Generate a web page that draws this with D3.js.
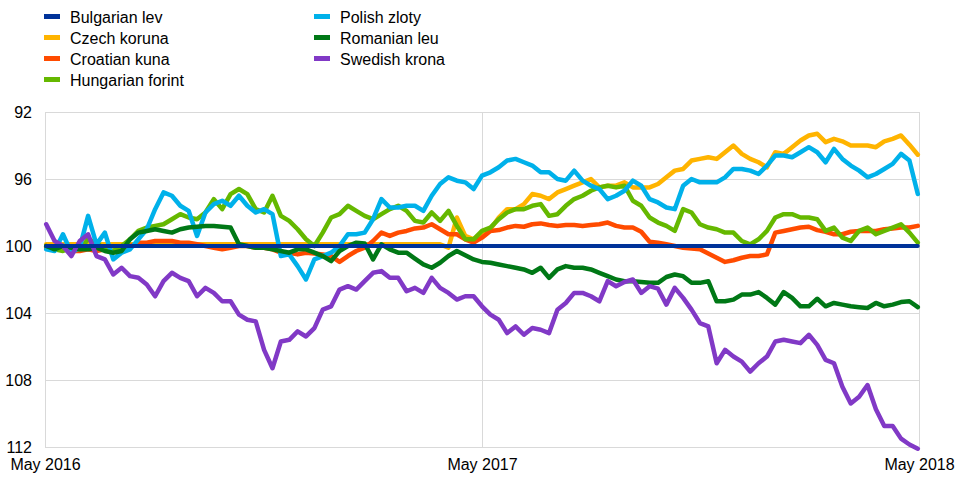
<!DOCTYPE html>
<html>
<head>
<meta charset="utf-8">
<script src="https://cdn.jsdelivr.net/npm/d3@7"></script>
<style>
  body { margin: 0; background: #fff; }
  text { font-family: "Liberation Sans", Arial, sans-serif; font-size: 16px; fill: #000; }
</style>
</head>
<body>
<div id="chart"></div>
<script>
//weekly observations, May 2016 - April 2018
let startDate = new Date(2016, 4, 2);
let dates = d3.range(105).map(i => d3.timeDay.offset(startDate, 7 * i));

let seriesNames = ["Bulgarian lev", "Czech koruna", "Croatian kuna", "Hungarian forint",
                   "Polish zloty", "Romanian leu", "Swedish krona"];
let seriesColors = ["#003299", "#ffb400", "#ff4b00", "#65b800", "#00b1ea", "#007816", "#8139c6"];

let yTicks = [92, 96, 100, 104, 108, 112];
let xTickLabels = ["May 2016", "May 2017", "May 2018"];
let xTickDates = [new Date(2016, 4, 1), new Date(2017, 4, 1), new Date(2018, 4, 1)];

let bulgarianLev = [
  100, 100, 100, 100, 100, 100, 100, 100, 100, 100, 100, 100, 100, 100, 100,
  100, 100, 100, 100, 100, 100, 100, 100, 100, 100, 100, 100, 100, 100, 100,
  100, 100, 100, 100, 100, 100, 100, 100, 100, 100, 100, 100, 100, 100, 100,
  100, 100, 100, 100, 100, 100, 100, 100, 100, 100, 100, 100, 100, 100, 100,
  100, 100, 100, 100, 100, 100, 100, 100, 100, 100, 100, 100, 100, 100, 100,
  100, 100, 100, 100, 100, 100, 100, 100, 100, 100, 100, 100, 100, 100, 100,
  100, 100, 100, 100, 100, 100, 100, 100, 100, 100, 100, 100, 100, 100, 100
];
let czechKoruna = [
  99.9, 99.9, 99.9, 99.9, 99.9, 99.9, 99.9, 99.9, 99.9, 99.9,
  99.9, 99.9, 99.9, 99.9, 99.9, 99.9, 99.9, 99.9, 99.9, 99.9,
  99.9, 99.9, 99.9, 99.9, 99.9, 99.9, 99.9, 99.9, 99.9, 99.9,
  99.9, 99.9, 99.9, 99.9, 99.9, 99.9, 99.9, 99.9, 99.9, 99.9,
  99.9, 99.9, 99.9, 99.9, 99.9, 99.9, 99.9, 99.9, 100.1, 98.3,
  99.4, 99.6, 99.2, 99.0, 98.3, 97.8, 97.8, 97.5, 96.9, 97.0,
  97.2, 96.8, 96.6, 96.4, 96.2, 96.0, 96.5, 96.4, 96.4, 96.2,
  96.5, 96.5, 96.5, 96.3, 95.9, 95.5, 95.4, 94.9, 94.8, 94.7,
  94.8, 94.4, 94.0, 94.5, 94.8, 95.0, 95.3, 94.4, 94.5, 94.1,
  93.7, 93.4, 93.3, 93.8, 93.6, 93.75, 94.0, 94.0, 94.0, 94.1,
  93.75, 93.6, 93.4, 93.95, 94.55
];
let croatianKuna = [
  100.1, 100.2, 100.2, 100.3, 100.3, 100.2, 100.3, 100.2, 100.3, 100.2,
  100.0, 99.8, 99.8, 99.7, 99.7, 99.7, 99.8, 99.8, 99.9, 100.0,
  100.1, 100.2, 100.1, 100.0, 100.0, 100.1, 100.1, 100.2, 100.4, 100.4,
  100.5, 100.4, 100.45, 100.5, 100.6, 100.95, 100.6, 100.3, 100.1, 99.7,
  99.2, 99.4, 99.2, 99.1, 98.95, 98.9, 98.7, 99.0, 99.3, 99.3,
  99.6, 99.8, 99.5, 99.1, 99.05, 98.9, 98.8, 98.85, 98.7, 98.65,
  98.75, 98.8, 98.75, 98.75, 98.8, 98.75, 98.7, 98.6, 98.8, 98.9,
  98.9, 99.15, 99.75, 99.8, 99.9, 100.0, 100.1, 100.15, 100.2, 100.45,
  100.7, 100.95, 100.85, 100.7, 100.6, 100.6, 100.5, 99.2, 99.1, 99.0,
  98.9, 98.85, 99.05, 99.15, 99.3, 99.3, 99.15, 99.1, 99.1, 99.1,
  99.0, 98.95, 98.9, 98.9, 98.8
];
let hungarianForint = [
  100.0, 100.2, 100.3, 100.1, 100.2, 99.6, 99.8, 100.2, 100.3, 100.0,
  99.6, 99.1, 98.9, 98.8, 98.7, 98.4, 98.1, 98.3, 98.4, 98.0,
  97.2, 97.8, 96.9, 96.6, 96.9, 97.8, 98.0, 97.0, 98.2, 98.5,
  99.0, 99.6, 100.0, 99.2, 98.3, 98.1, 97.6, 97.9, 98.2, 98.4,
  98.1, 97.8, 97.6, 97.9, 98.5, 98.6, 98.0, 98.5, 97.9, 98.8,
  99.6, 99.6, 99.1, 98.9, 98.4, 98.0, 97.8, 97.8, 97.6, 97.5,
  98.2, 98.1, 97.6, 97.2, 97.0, 96.7, 96.5, 96.4, 96.5, 96.4,
  97.3, 97.6, 98.3, 98.6, 98.8, 99.1, 97.8, 98.0, 98.7, 98.9,
  99.0, 99.2, 99.2, 99.7, 99.9, 99.6, 99.1, 98.3, 98.1, 98.1,
  98.3, 98.3, 98.4, 99.1, 98.9, 99.5, 99.7, 99.1, 98.9, 99.3,
  99.1, 98.9, 98.7, 99.2, 99.8
];
let polishZloty = [
  100.2, 100.3, 99.3, 100.4, 100.1, 98.2, 99.9, 99.2, 100.8, 100.4,
  100.2, 99.6, 99.0, 97.8, 96.8, 97.0, 97.6, 97.9, 99.4, 98.0,
  97.5, 97.3, 97.6, 97.0, 97.6, 98.0, 97.8, 98.1, 100.6, 100.5,
  101.2, 102.0, 100.8, 100.6, 100.4, 100.0, 99.3, 99.3, 99.2, 98.4,
  97.2, 97.7, 97.7, 97.6, 97.6, 97.9, 97.0, 96.3, 95.9, 96.1,
  96.2, 96.6, 95.8, 95.6, 95.3, 94.9, 94.8, 95.0, 95.2, 95.6,
  95.6, 96.0, 96.1, 95.5, 96.1, 96.4, 96.6, 97.2, 97.0, 96.7,
  96.1, 96.4, 97.2, 97.4, 97.7, 97.8, 96.4, 96.0, 96.2, 96.2,
  96.2, 95.9, 95.4, 95.4, 95.5, 95.7, 95.2, 94.6, 94.6, 94.7,
  94.4, 94.1, 94.4, 95.0, 94.2, 94.8, 95.2, 95.5, 95.9, 95.7,
  95.4, 95.1, 94.5, 94.9, 96.9
];
let romanianLeu = [
  100.0, 100.2, 100.0, 100.1, 100.2, 100.2, 100.1, 100.3, 100.4, 100.3,
  99.6, 99.2, 99.1, 99.0, 99.1, 99.2, 99.0, 98.9, 98.85, 98.8,
  98.8, 98.85, 98.9, 99.9, 100.0, 100.1, 100.1, 100.2, 100.3, 100.4,
  100.2, 100.2, 100.4, 100.6, 100.9, 100.3, 100.0, 99.8, 99.85, 100.8,
  99.9, 100.2, 100.4, 100.4, 100.75, 101.1, 101.3, 101.0, 100.6, 100.3,
  100.55, 100.8, 100.95, 101.0, 101.1, 101.2, 101.3, 101.4, 101.6, 101.3,
  101.9, 101.4, 101.2, 101.3, 101.3, 101.4, 101.6, 101.8, 102.0, 102.1,
  102.1, 102.15, 102.2, 102.2, 101.85, 101.7, 101.8, 102.2, 102.2, 102.1,
  103.3, 103.3, 103.2, 102.9, 102.9, 102.75, 103.1, 103.5, 102.75, 103.1,
  103.6, 103.6, 103.15, 103.6, 103.4, 103.5, 103.6, 103.65, 103.7, 103.4,
  103.6, 103.5, 103.35, 103.3, 103.65
];
let swedishKrona = [
  98.7, 99.7, 100.0, 100.6, 99.7, 99.3, 100.6, 100.8, 101.7, 101.3,
  101.8, 101.9, 102.3, 103.0, 102.1, 101.6, 101.9, 102.1, 103.0, 102.5,
  102.8, 103.3, 103.3, 104.1, 104.4, 104.5, 106.2, 107.3, 105.7, 105.6,
  105.1, 105.4, 104.9, 103.8, 103.6, 102.6, 102.4, 102.6, 102.1, 101.6,
  101.5, 101.9, 101.9, 102.7, 102.5, 102.8, 101.9, 102.5, 102.8, 103.2,
  103.0, 103.0, 103.6, 104.1, 104.4, 105.2, 104.8, 105.3, 104.9, 105.0,
  105.2, 103.8, 103.4, 102.8, 102.8, 103.0, 103.3, 102.1, 102.4, 102.15,
  102.0, 102.8, 102.4, 102.55, 103.5, 102.5, 103.1, 103.8, 104.6, 104.8,
  107.0, 106.2, 106.6, 106.9, 107.5, 107.0, 106.6, 105.7, 105.6, 105.7,
  105.8, 105.3, 105.9, 106.8, 107.0, 108.4, 109.4, 109.0, 108.3, 109.75,
  110.75, 110.75, 111.5, 111.85, 112.1
];

let seriesValues = [bulgarianLev, czechKoruna, croatianKuna, hungarianForint,
                    polishZloty, romanianLeu, swedishKrona];

//build canvas
let width = 967;
let height = 477;
let plotLeft = 45;
let plotRight = 919;
let plotTop = 112;
let plotBottom = 447;

let svg = d3.select("#chart")
        .append("svg")
        .attr("width", width)
        .attr("height", height);

let x = d3.scaleTime()
        .domain([xTickDates[0], xTickDates[2]])
        .range([plotLeft, plotRight]);

// inverted axis: appreciation goes up
let y = d3.scaleLinear()
        .domain([92, 112])
        .range([plotTop, plotBottom]);

//grid lines
let yAxis = d3.axisLeft(y)
        .tickValues(yTicks)
        .tickSize(plotLeft - plotRight)
        .tickPadding(13);

let yAxisG = svg.append("g")
        .attr("transform", "translate(" + plotLeft + ",0)")
        .call(yAxis);
yAxisG.select(".domain").remove();
yAxisG.selectAll("line").attr("stroke", "#d9d9d9");
yAxisG.selectAll("text")
        .attr("font-size", null)
        .attr("font-family", null);

let xAxis = d3.axisBottom(x)
        .tickValues(xTickDates)
        .tickFormat((d, i) => xTickLabels[i])
        .tickSize(plotTop - plotBottom)
        .tickPadding(12);

let xAxisG = svg.append("g")
        .attr("transform", "translate(0," + plotBottom + ")")
        .call(xAxis);
xAxisG.select(".domain").remove();
xAxisG.selectAll("line").attr("stroke", "#d9d9d9");
xAxisG.selectAll("text")
        .attr("font-size", null)
        .attr("font-family", null);

//lines, lev drawn last so it sits on top
let line = d3.line()
        .x((d, i) => x(dates[i]))
        .y(d => y(d));

let drawOrder = [1, 2, 3, 4, 5, 6, 0];
drawOrder.forEach(function(k){
  svg.append("path")
      .datum(seriesValues[k])
      .attr("fill", "none")
      .attr("stroke", seriesColors[k])
      .attr("stroke-width", k === 0 ? 4 : 4.5)
      .attr("stroke-linejoin", "round")
      .attr("stroke-linecap", "round")
      .attr("d", line);
});

//legend, two columns
let legend = svg.append("g");
seriesNames.forEach(function(name, i){
  let col = i < 4 ? 0 : 1;
  let row = i < 4 ? i : i - 4;
  let lx = col === 0 ? 44 : 314;
  let ly = 17 + row * 21;

  legend.append("rect")
      .attr("x", lx)
      .attr("y", ly - 3)
      .attr("width", 16)
      .attr("height", 5)
      .attr("fill", seriesColors[i]);

  legend.append("text")
      .attr("x", lx + 26)
      .attr("y", ly)
      .attr("dy", "0.35em")
      .text(name);
});
</script>
</body>
</html>
